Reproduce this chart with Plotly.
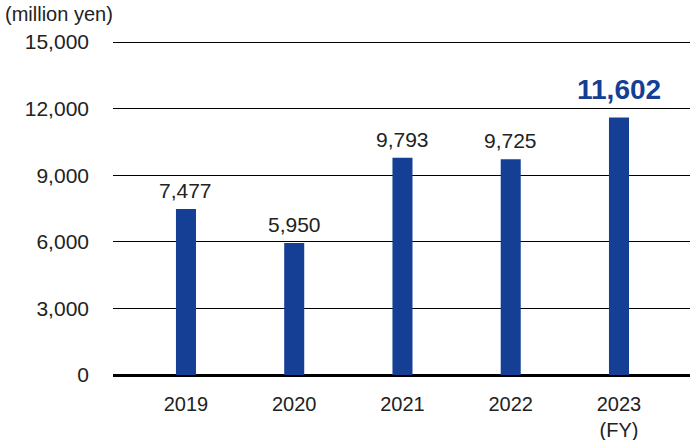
import plotly.graph_objects as go

years = ["2019", "2020", "2021", "2022", "2023"]
tick_labels = ["2019", "2020", "2021", "2022", "2023<br>(FY)"]
values = [7477, 5950, 9793, 9725, 11602]
y_ticks = [0, 3000, 6000, 9000, 12000, 15000]
y_tick_labels = ["0", "3,000", "6,000", "9,000", "12,000", "15,000"]

blue = "#143F95"
font = "Liberation Sans, Arial, sans-serif"

fig = go.Figure()
fig.add_trace(go.Bar(
    x=list(range(len(years))),
    y=values,
    width=0.185,
    marker=dict(color=blue, line=dict(width=0)),
    hoverinfo="skip",
))

# value labels above the bars; the latest year is highlighted
for i, v in enumerate(values):
    last = i == len(values) - 1
    fig.add_annotation(
        x=i, y=v, xref="x", yref="y",
        text=f"<b>{v:,}</b>" if last else f"{v:,}",
        xanchor="center", yanchor="bottom", yshift=11 if last else 5,
        showarrow=False,
        font=dict(family=font, size=28 if last else 21,
                  color=blue if last else "#222222"),
    )

fig.add_annotation(
    text="(million yen)", xref="paper", yref="paper",
    x=-110 / 577, y=1 + 27 / 334, xanchor="left", yanchor="middle",
    showarrow=False, font=dict(family=font, size=20, color="#222222"),
)

fig.update_layout(
    width=690, height=440,
    margin=dict(l=113, r=0, t=41, b=65, autoexpand=False),
    paper_bgcolor="white", plot_bgcolor="white",
    showlegend=False,
    font=dict(family=font, size=20, color="#222222"),
    xaxis=dict(
        range=[-0.674, 4.656], automargin=False,
        tickmode="array", tickvals=list(range(len(years))), ticktext=tick_labels,
        showgrid=False, zeroline=False, showline=False,
        ticks="", ticklabelstandoff=15, tickfont=dict(size=20),
    ),
    yaxis=dict(
        range=[0, 15050], automargin=False,
        tickmode="array", tickvals=y_ticks, ticktext=y_tick_labels,
        showgrid=True, gridcolor="black", gridwidth=1,
        zeroline=True, zerolinecolor="black", zerolinewidth=3,
        showline=False, ticks="", ticklabelstandoff=23, tickfont=dict(size=21),
    ),
)

# page body has an 8px default margin; drop it so the chart sits flush
fig.write_html("out.html", config={"displayModeBar": False},
               post_script="document.body.style.margin='0';")
